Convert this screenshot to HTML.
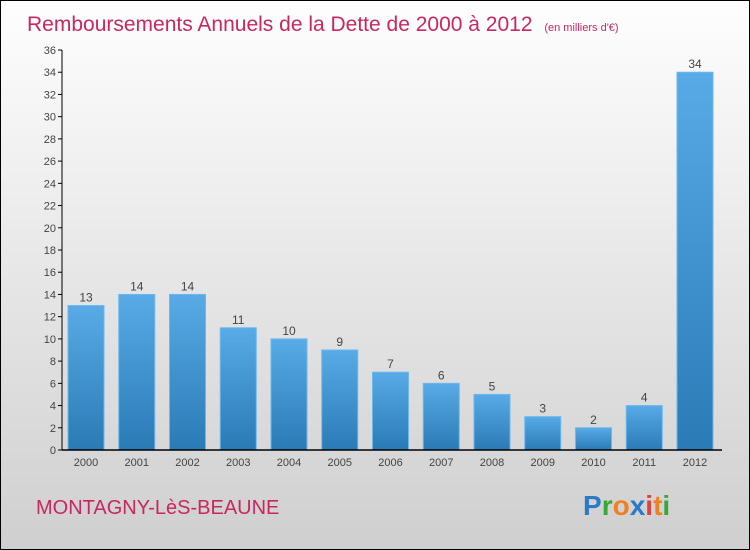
<!DOCTYPE html>
<html><head><meta charset="utf-8"><style>
body{margin:0}
#wrap{width:748px;height:548px;border:1px solid #000;background:linear-gradient(#fefefe,#f0f0f0 30%,#cfcfcf);position:relative;font-family:"Liberation Sans",sans-serif;overflow:hidden}
</style></head><body>
<div id="wrap">
<svg id="c" width="748" height="548">
<defs><linearGradient id="g" x1="0" y1="0" x2="0" y2="1"><stop offset="0" stop-color="#58abe6"/><stop offset="1" stop-color="#2a7ab6"/></linearGradient></defs>
<text x="26" y="30" font-size="21" fill="#c8275f">Remboursements Annuels de la Dette de 2000 à 2012 <tspan font-size="11" dx="6">(en milliers d'€)</tspan></text>
<text x="35" y="513" font-size="20" fill="#c8275f">MONTAGNY-LèS-BEAUNE</text>
<text x="582" y="514" font-size="28" font-weight="bold"><tspan fill="#2a7ac8">P</tspan><tspan fill="#38a838">r</tspan><tspan fill="#f08020">o</tspan><tspan fill="#2a7ac8">x</tspan><tspan fill="#e04040">i</tspan><tspan fill="#f08020">t</tspan><tspan fill="#38a838">i</tspan></text>
<g id="plot"></g>
</svg></div>
<script>
const categories=["2000","2001","2002","2003","2004","2005","2006","2007","2008","2009","2010","2011","2012"];
const values=[13,14,14,11,10,9,7,6,5,3,2,4,34];
const yTicks=[0,2,4,6,8,10,12,14,16,18,20,22,24,26,28,30,32,34,36];
const ns="http://www.w3.org/2000/svg";
const g=document.getElementById('plot');
const y0=449,yTop=49,yMax=36;
const y=v=>y0-(v/yMax)*(y0-yTop);
const x=i=>67+i*50.75;
const bw=36;
function el(t,a){const e=document.createElementNS(ns,t);for(const k in a)e.setAttribute(k,a[k]);g.appendChild(e);return e;}
yTicks.forEach(t=>{
 const l=el('line',{x1:57,x2:61,y1:y(t),y2:y(t),stroke:'#000'});
 
 
 const tx=el('text',{x:55,y:y(t)+4,'text-anchor':'end','font-size':11,fill:'#444'});
 tx.textContent=t;
 
 
});
categories.forEach((c,i)=>{
 const r=el('rect',{x:x(i),y:y(values[i]),width:bw,height:y0-y(values[i]),fill:'url(#g)',stroke:'#6bb8ee','stroke-width':1});
 
 
 const v=el('text',{x:x(i)+bw/2,y:y(values[i])-4,'text-anchor':'middle','font-size':12,fill:'#444'});
 v.textContent=values[i];
 
 
 const l=el('text',{x:x(i)+bw/2,y:y0+16,'text-anchor':'middle','font-size':11,fill:'#444'});
 l.textContent=c;
 
 
});
const ya=el('line',{x1:61,x2:61,y1:yTop,y2:y0,stroke:'#000'});


const xa=el('line',{x1:61,x2:721,y1:y0,y2:y0,stroke:'#000','stroke-width':1.5});


</script>
</body></html>
